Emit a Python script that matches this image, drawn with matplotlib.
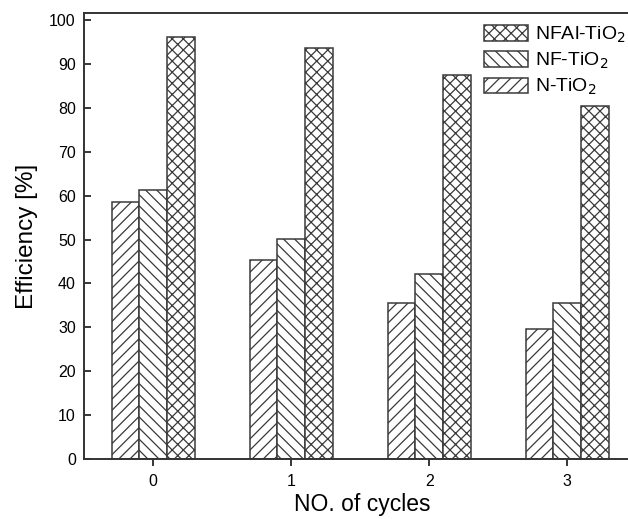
import matplotlib

matplotlib.use("Agg")

import matplotlib.pyplot as plt
import numpy as np

plt.rcParams["font.family"] = ["Liberation Sans", "DejaVu Sans"]
plt.rcParams["hatch.linewidth"] = 0.9
plt.rcParams["hatch.color"] = "#3a3a3a"

cycles = ["0", "1", "2", "3"]
n_tio2 = [58.6, 45.4, 35.6, 29.6]
nf_tio2 = [61.3, 50.2, 42.1, 35.5]
nfal_tio2 = [96.1, 93.7, 87.4, 80.5]

EDGE = "#3a3a3a"

fig = plt.figure(figsize=(6.28, 5.19), dpi=100)
ax = fig.add_axes([0.134, 0.1156, 0.866, 0.8594])

x = np.arange(len(cycles))
width = 0.2
b1 = ax.bar(x - width, n_tio2, width, facecolor="white", edgecolor=EDGE,
            hatch="///", linewidth=1.1, label="N-TiO$_2$")
b2 = ax.bar(x, nf_tio2, width, facecolor="white", edgecolor=EDGE,
            hatch="\\\\\\", linewidth=1.1, label="NF-TiO$_2$")
b3 = ax.bar(x + width, nfal_tio2, width, facecolor="white", edgecolor=EDGE,
            hatch="xxx", linewidth=1.1, label="NFAl-TiO$_2$")

ax.set_xlim(-0.5, 3.44)
ax.set_ylim(0, 101.6)
ax.set_xticks(x)
ax.set_xticklabels(cycles)
ax.set_yticks(np.arange(0, 101, 10))
ax.tick_params(axis="y", direction="in", length=5, width=1.1, labelsize=11.5, pad=6)
ax.tick_params(axis="x", direction="out", length=5, width=1.1, labelsize=11.5, pad=6)
for side in ("left", "bottom", "top"):
    ax.spines[side].set_linewidth(1.4)
    ax.spines[side].set_color("#333333")
ax.spines["right"].set_visible(False)

ax.set_xlabel("NO. of cycles", fontsize=16.5, labelpad=3)
ax.xaxis.label.set_x(0.512)
ax.set_ylabel("Efficiency [%]", fontsize=17.5, labelpad=8)

ax.legend([b3, b2, b1], ["NFAl-TiO$_2$", "NF-TiO$_2$", "N-TiO$_2$"],
          loc="upper right", bbox_to_anchor=(1.014, 0.995), frameon=False,
          fontsize=14, handlelength=2.27, handleheight=0.88,
          handletextpad=0.36, labelspacing=0.3, borderaxespad=0.1)

fig.savefig("out.png", dpi=100)
